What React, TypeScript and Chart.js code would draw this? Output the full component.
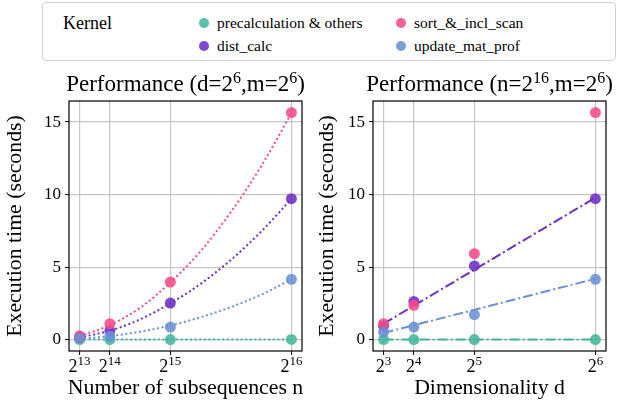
import React, { useEffect, useRef } from 'react';
import { Chart, registerables } from 'chart.js';
Chart.register(...registerables);

// ---------- data ----------
const nTicks = [8192, 16384, 32768, 65536];
const nExp = ['13', '14', '15', '16'];
const dTicks = [8, 16, 32, 64];
const dExp = ['3', '4', '5', '6'];
const yTicks = [0, 5, 10, 15];

const kernels = ['precalculation & others', 'dist_calc', 'sort_&_incl_scan', 'update_mat_prof'];

// Left panel: vs number of subsequences n
const precalcN = [0.01, 0.01, 0.01, 0.02];
const distN = [0.15, 0.62, 2.52, 9.72];
const sortN = [0.27, 1.1, 3.97, 15.65];
const updateN = [0.1, 0.23, 0.87, 4.16];

const fitN = [8192, 16384, 24576, 32768, 40960, 49152, 57344, 65536];
const precalcFitN = [0.01, 0.01, 0.01, 0.01, 0.01, 0.01, 0.01, 0.02];
const distFitN = [0.15, 0.62, 1.4, 2.5, 3.85, 5.5, 7.45, 9.7];
const sortFitN = [0.25, 1.0, 2.2, 3.95, 6.1, 8.8, 11.95, 15.6];
const updateFitN = [0.06, 0.25, 0.55, 0.98, 1.55, 2.25, 3.1, 4.15];

// Right panel: vs dimensionality d
const precalcD = [0.01, 0.01, 0.01, 0.01];
const distD = [0.95, 2.64, 5.08, 9.72];
const sortD = [1.1, 2.37, 5.93, 15.65];
const updateD = [0.52, 0.87, 1.72, 4.16];

const fitD = [8, 64];
const precalcFitD = [0.01, 0.01];
const distFitD = [1.1, 9.79];
const updateFitD = [0.46, 4.2];

// ---------- style ----------
const COLORS = ['#45b69c', '#6d2fc5', '#f64a8a', '#6c90d6'];
const POINT_COLORS = ['rgba(69,182,156,0.88)', 'rgba(109,47,197,0.88)', 'rgba(246,74,138,0.88)', 'rgba(108,144,214,0.88)'];
const SERIF = '"Liberation Serif", "Times New Roman", serif';
const H = 409;
const AREA_TOP = 101;
const AREA_BOTTOM = 351;

type Part = { t: string; sup?: boolean };

function drawParts(ctx: CanvasRenderingContext2D, parts: Part[], cx: number, baseline: number, size: number, supSize: number, raise: number) {
  const widths = parts.map((p) => {
    ctx.font = `${p.sup ? supSize : size}px ${SERIF}`;
    return ctx.measureText(p.t).width;
  });
  const total = widths.reduce((a, b) => a + b, 0);
  let x = cx - total / 2;
  ctx.textAlign = 'left';
  ctx.textBaseline = 'alphabetic';
  parts.forEach((p, i) => {
    ctx.font = `${p.sup ? supSize : size}px ${SERIF}`;
    ctx.fillText(p.t, x, p.sup ? baseline - raise : baseline);
    x += widths[i];
  });
}

type Panel = {
  offset: number;
  width: number;
  areaLeft: number;
  areaRight: number;
  title: Part[];
  xTitle: string;
  xTicks: number[];
  xExp: string[];
  xMin: number;
  xMax: number;
  yTitleX: number;
  datasets: any[];
};

const pts = (xs: number[], ys: number[]) => xs.map((x, i) => ({ x, y: ys[i] }));

function pointSet(i: number, xs: number[], ys: number[], order: number) {
  return {
    label: kernels[i],
    data: pts(xs, ys),
    showLine: false,
    pointRadius: 5.5,
    pointBackgroundColor: POINT_COLORS[i],
    pointBorderWidth: 0,
    pointHoverRadius: 5.5,
    order,
  };
}

function lineSet(i: number, xs: number[], ys: number[], dash: number[], smooth: boolean) {
  return {
    label: kernels[i] + ' fit',
    data: pts(xs, ys),
    showLine: true,
    pointRadius: 0,
    borderColor: COLORS[i],
    borderWidth: 2,
    borderDash: dash,
    fill: false,
    cubicInterpolationMode: smooth ? 'monotone' : 'default',
    order: 10 + i,
  };
}

const DOT = [2, 2.6];
const DASHDOT = [10, 3, 2, 3];

const panels: Panel[] = [
  {
    offset: 0,
    width: 313,
    areaLeft: 69,
    areaRight: 302,
    title: [{ t: 'Performance (d=2' }, { t: '6', sup: true }, { t: ',m=2' }, { t: '6', sup: true }, { t: ')' }],
    xTitle: 'Number of subsequences n',
    xTicks: nTicks,
    xExp: nExp,
    xMin: 5325,
    xMax: 68403,
    yTitleX: 15,
    datasets: [
      lineSet(0, fitN, precalcFitN, DOT, true),
      lineSet(1, fitN, distFitN, DOT, true),
      lineSet(2, fitN, sortFitN, DOT, true),
      lineSet(3, fitN, updateFitN, DOT, true),
      pointSet(0, nTicks, precalcN, 4),
      pointSet(1, nTicks, distN, 3),
      pointSet(2, nTicks, sortN, 2),
      pointSet(3, nTicks, updateN, 1),
    ],
  },
  {
    offset: 313,
    width: 314,
    areaLeft: 60,
    areaRight: 293,
    title: [{ t: 'Performance (n=2' }, { t: '16', sup: true }, { t: ',m=2' }, { t: '6', sup: true }, { t: ')' }],
    xTitle: 'Dimensionality d',
    xTicks: dTicks,
    xExp: dExp,
    xMin: 5.2,
    xMax: 66.8,
    yTitleX: 14,
    datasets: [
      lineSet(0, fitD, precalcFitD, DASHDOT, false),
      lineSet(1, fitD, distFitD, DASHDOT, false),
      lineSet(3, fitD, updateFitD, DASHDOT, false),
      pointSet(0, dTicks, precalcD, 4),
      pointSet(1, dTicks, distD, 3),
      pointSet(2, dTicks, sortD, 2),
      pointSet(3, dTicks, updateD, 1),
    ],
  },
];

function makeDecor(panel: Panel) {
  return {
    id: 'decor',
    afterDraw(chart: any) {
      const ctx: CanvasRenderingContext2D = chart.ctx;
      const a = chart.chartArea;
      const xs = chart.scales.x;
      ctx.save();
      // frame
      ctx.strokeStyle = '#000';
      ctx.lineWidth = 1.2;
      ctx.strokeRect(a.left, a.top, a.right - a.left, a.bottom - a.top);
      ctx.fillStyle = '#000';
      const cx = (a.left + a.right) / 2;
      // title
      drawParts(ctx, panel.title, cx, 91, 23, 16, 8.5);
      // x tick labels
      panel.xTicks.forEach((v, i) => {
        const px = xs.getPixelForValue(v);
        drawParts(ctx, [{ t: '2' }, { t: panel.xExp[i], sup: true }], px, 372, 18, 13, 7.5);
      });
      // x title
      ctx.font = `21.8px ${SERIF}`;
      ctx.textAlign = 'center';
      ctx.textBaseline = 'alphabetic';
      ctx.fillText(panel.xTitle, cx, 394);
      // y title
      ctx.translate(panel.yTitleX, (a.top + a.bottom) / 2);
      ctx.rotate(-Math.PI / 2);
      ctx.textBaseline = 'middle';
      ctx.fillText('Execution time (seconds)', 0, 0);
      ctx.restore();
    },
  };
}

function PanelChart({ panel }: { panel: Panel }) {
  const ref = useRef<HTMLCanvasElement>(null);
  useEffect(() => {
    if (!ref.current) return;
    const grid = { color: '#c6c6c6', lineWidth: 1.2, tickLength: 4, tickColor: '#000', tickWidth: 1, drawTicks: true };
    const chart = new Chart(ref.current, {
      type: 'scatter',
      data: { datasets: panel.datasets },
      options: {
        responsive: false,
        animation: false,
        devicePixelRatio: 1,
        layout: { padding: { top: AREA_TOP, right: panel.width - panel.areaRight, bottom: 0, left: 0 } },
        plugins: { legend: { display: false }, tooltip: { enabled: false }, title: { display: false } },
        scales: {
          x: {
            type: 'linear',
            min: panel.xMin,
            max: panel.xMax,
            afterBuildTicks: (s: any) => {
              s.ticks = panel.xTicks.map((v) => ({ value: v }));
            },
            afterFit: (s: any) => {
              s.height = H - AREA_BOTTOM;
            },
            ticks: { display: false },
            grid,
            border: { display: false },
          },
          y: {
            type: 'linear',
            min: -0.78,
            max: 16.45,
            afterBuildTicks: (s: any) => {
              s.ticks = yTicks.map((v) => ({ value: v }));
            },
            afterFit: (s: any) => {
              s.width = panel.areaLeft;
            },
            ticks: { font: { family: SERIF, size: 17 }, color: '#000', padding: 4 },
            grid,
            border: { display: false },
          },
        },
      } as any,
      plugins: [makeDecor(panel)],
    });
    return () => chart.destroy();
  }, [panel]);
  return (
    <canvas
      ref={ref}
      width={panel.width}
      height={H}
      style={{ position: 'absolute', left: panel.offset, top: 0, width: panel.width, height: H }}
    />
  );
}

const legendItems = [
  { i: 0, x: 204, y: 23 },
  { i: 1, x: 204, y: 46 },
  { i: 2, x: 401, y: 23 },
  { i: 3, x: 401, y: 46 },
];

export default function App() {
  return (
    <div style={{ position: 'fixed', left: 0, top: 0, width: 627, height: H, background: '#fff', overflow: 'hidden' }}>
      {panels.map((p, k) => (
        <PanelChart key={k} panel={p} />
      ))}
      <div
        style={{
          position: 'absolute',
          left: 42,
          top: 2,
          width: 574,
          height: 59,
          border: '1px solid #d2d2d2',
          borderRadius: 4,
          boxSizing: 'border-box',
          background: '#fff',
          fontFamily: SERIF,
          color: '#000',
        }}
      >
        <div style={{ position: 'absolute', left: 20, top: 10, fontSize: 18, lineHeight: '20px', whiteSpace: 'nowrap' }}>Kernel</div>
        {legendItems.map((it) => (
          <React.Fragment key={it.i}>
            <div
              style={{
                position: 'absolute',
                left: it.x - 42 - 5 - 1,
                top: it.y - 2 - 5 - 1,
                width: 10,
                height: 10,
                borderRadius: '50%',
                background: POINT_COLORS[it.i],
              }}
            />
            <div
              style={{
                position: 'absolute',
                left: it.x - 42 + 12,
                top: it.y - 2 - 10 - 1,
                fontSize: 15.5,
                lineHeight: '20px',
                whiteSpace: 'nowrap',
              }}
            >
              {kernels[it.i]}
            </div>
          </React.Fragment>
        ))}
      </div>
    </div>
  );
}
